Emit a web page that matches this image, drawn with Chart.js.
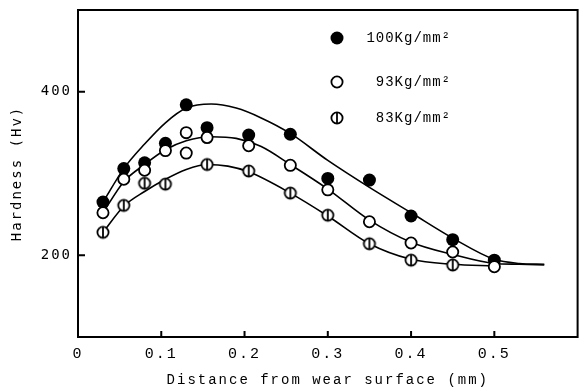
<!DOCTYPE html>
<html>
<head>
<meta charset="utf-8">
<script src="https://cdn.jsdelivr.net/npm/chart.js@4.4.1/dist/chart.umd.min.js"></script>
<style>
  html, body { margin: 0; padding: 0; background: #fff; }
</style>
</head>
<body>
<canvas id="hardnessChart" width="585" height="391"></canvas>
<script>
const dist100 = [0.03, 0.055, 0.08, 0.105, 0.13, 0.155, 0.205, 0.255, 0.3, 0.35, 0.4, 0.45, 0.5];
const hv100   = [265, 306, 313, 337, 384, 356, 347, 348, 294, 292, 248, 219, 194];

const dist93 = [0.03, 0.055, 0.08, 0.105, 0.13, 0.13, 0.155, 0.205, 0.255, 0.3, 0.35, 0.4, 0.45, 0.5];
const hv93   = [252, 293, 304, 328, 350, 325, 344, 334, 310, 280, 241, 215, 204, 186];

const dist83 = [0.03, 0.055, 0.08, 0.105, 0.155, 0.205, 0.255, 0.3, 0.35, 0.4, 0.45];
const hv83   = [228, 261, 288, 287, 311, 303, 276, 249, 214, 194, 188];

// fitted curves drawn through the points
const curveDist = [0.03, 0.055, 0.08, 0.105, 0.13, 0.16, 0.19, 0.22, 0.255, 0.3, 0.35, 0.4, 0.45, 0.5, 0.53, 0.56];
const curve100  = [265, 306, 336, 362, 380, 385, 380, 368, 349, 316, 283, 252, 221, 195, 190, 189];
const curve93   = [252, 290, 311, 329, 340, 345, 343, 333, 311, 281, 243, 216, 201, 190, 189, 188];
const curveDist83 = [0.03, 0.055, 0.08, 0.105, 0.13, 0.155, 0.18, 0.205, 0.255, 0.3, 0.35, 0.4, 0.45, 0.5];
const curve83     = [228, 260, 278, 293, 305, 311, 309, 302, 276, 248, 214, 195, 189, 187];

const seriesLabels = ['100Kg/mm²', '93Kg/mm²', '83Kg/mm²'];
const xTicks = [0, 0.1, 0.2, 0.3, 0.4, 0.5];
const yTicks = [200, 400];

function toXY(xs, ys) {
    return xs.map((x, i) => ({ x: x, y: ys[i] }));
}

// open circle with a vertical bar through it
function makeBarred() {
    const c = document.createElement('canvas');
    c.width = 16; c.height = 16;
    const g = c.getContext('2d');
    g.beginPath(); g.arc(8, 8, 5.6, 0, Math.PI * 2);
    g.fillStyle = '#fff'; g.fill();
    g.lineWidth = 1.8; g.strokeStyle = '#000'; g.stroke();
    g.beginPath(); g.moveTo(8, 2.4); g.lineTo(8, 13.6); g.stroke();
    return c;
}
const barredImg = makeBarred();

const monoFont = "'Liberation Mono', monospace";
const sansFont = "'DejaVu Sans Mono', monospace";

const framePlugin = {
    id: 'frame',
    beforeUpdate(chart) { chart.ctx.letterSpacing = '2px'; },
    beforeDraw(chart) {
        const ctx = chart.ctx;
        ctx.save();
        ctx.fillStyle = '#fff';
        ctx.fillRect(0, 0, chart.width, chart.height);
        ctx.restore();
        ctx.letterSpacing = '2px';
    },
    afterDraw(chart) {
        const ctx = chart.ctx;
        const a = chart.chartArea;
        const xs = chart.scales.x, ys = chart.scales.y;
        ctx.save();
        ctx.strokeStyle = '#000';
        ctx.lineWidth = 2;
        ctx.strokeRect(a.left, a.top, a.right - a.left, a.bottom - a.top);
        // inward tick marks
        ctx.beginPath();
        xTicks.forEach(v => {
            if (v === 0) return;
            const px = xs.getPixelForValue(v);
            ctx.moveTo(px, a.bottom); ctx.lineTo(px, a.bottom - 6);
        });
        yTicks.forEach(v => {
            const py = ys.getPixelForValue(v);
            ctx.moveTo(a.left, py); ctx.lineTo(a.left + 7, py);
        });
        ctx.stroke();

        // legend
        const lx = 337, ly = [38, 82, 118];
        ctx.font = '14px ' + monoFont;
        ctx.letterSpacing = '1px';
        ctx.fillStyle = '#000';
        ctx.textAlign = 'right';
        ctx.textBaseline = 'middle';
        seriesLabels.forEach((lab, i) => {
            if (i === 0) {
                ctx.beginPath(); ctx.arc(lx, ly[i], 6.5, 0, Math.PI * 2); ctx.fill();
            } else if (i === 1) {
                ctx.beginPath(); ctx.arc(lx, ly[i], 5.6, 0, Math.PI * 2);
                ctx.fillStyle = '#fff'; ctx.fill();
                ctx.lineWidth = 1.8; ctx.stroke();
                ctx.fillStyle = '#000';
            } else {
                ctx.drawImage(barredImg, lx - 8, ly[i] - 8);
            }
            ctx.fillText(lab, 451, ly[i]);
        });
        ctx.restore();
    }
};

const pointBase = { showLine: false, borderColor: '#000', borderWidth: 1.8, order: 1 };
const curveBase = { showLine: true, borderColor: '#000', borderWidth: 1.6, pointRadius: 0, cubicInterpolationMode: 'monotone', order: 2 };

new Chart(document.getElementById('hardnessChart'), {
    type: 'scatter',
    data: {
        datasets: [
            { ...curveBase, label: 'fit100', data: toXY(curveDist, curve100) },
            { ...curveBase, label: 'fit93', data: toXY(curveDist, curve93) },
            { ...curveBase, label: 'fit83', data: toXY(curveDist83, curve83) },
            { ...pointBase, label: seriesLabels[2], data: toXY(dist83, hv83), pointStyle: barredImg },
            { ...pointBase, label: seriesLabels[1], data: toXY(dist93, hv93), pointRadius: 5.6, backgroundColor: '#fff' },
            { ...pointBase, label: seriesLabels[0], data: toXY(dist100, hv100), pointRadius: 6.5, backgroundColor: '#000', borderWidth: 0 }
        ]
    },
    options: {
        responsive: false,
        devicePixelRatio: 1,
        animation: false,
        layout: { padding: { left: 0, top: 10, right: 5, bottom: 0 } },
        plugins: { legend: { display: false }, tooltip: { enabled: false } },
        scales: {
            x: {
                type: 'linear', min: 0, max: 0.6,
                afterBuildTicks: s => { s.ticks = xTicks.map(v => ({ value: v })); },
                afterFit: s => { s.height = 54; s.paddingLeft = 0; s.paddingRight = 0; },
                grid: { display: false, drawTicks: false },
                border: { display: false },
                ticks: {
                    color: '#000', padding: 8, maxRotation: 0, autoSkip: false,
                    font: { family: monoFont, size: 15 },
                    callback: v => v === 0 ? '0' : v.toFixed(1)
                },
                title: {
                    display: true, text: 'Distance from wear surface (mm)', color: '#000',
                    font: { family: monoFont, size: 14 }, padding: { top: 0, bottom: 2 }
                }
            },
            y: {
                type: 'linear', min: 100, max: 500,
                afterBuildTicks: s => { s.ticks = yTicks.map(v => ({ value: v })); },
                afterFit: s => { s.width = 78; s.paddingTop = 0; s.paddingBottom = 0; },
                grid: { display: false, drawTicks: false },
                border: { display: false },
                ticks: {
                    color: '#000', padding: 6,
                    font: { family: sansFont, size: 14 }
                },
                title: {
                    display: true, text: 'Hardness (Hv)', color: '#000',
                    font: { family: sansFont, size: 14 }, padding: { top: 9, bottom: 0 }
                }
            }
        }
    },
    plugins: [framePlugin]
});
</script>
</body>
</html>
